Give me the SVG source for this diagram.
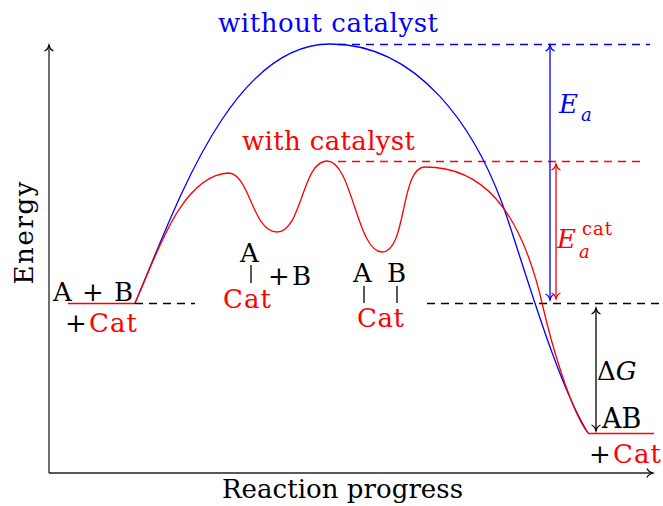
<svg xmlns="http://www.w3.org/2000/svg" width="663" height="506" viewBox="0 0 663 506">
<style>
text{font-family:"DejaVu Serif","Liberation Serif",serif;font-size:26px}
.k{fill:#000}.r{fill:#ff0000}.b{fill:#0000ff}
.it{font-style:italic}
.sm{font-size:18px}
.ln{fill:none;stroke-width:1.3}
.dash{fill:none;stroke-width:1.3;stroke-dasharray:8 6}
</style>
<defs>
<marker id="tk" markerUnits="userSpaceOnUse" markerWidth="12" markerHeight="12" refX="0" refY="0" orient="auto-start-reverse" style="overflow:visible"><path d="M-6,-4.5 C-5,-1.8 -1.5,-0.4 0,0 C-1.5,0.4 -5,1.8 -6,4.5" fill="none" stroke="#000" stroke-width="1.2"/></marker>
<marker id="tb" markerUnits="userSpaceOnUse" markerWidth="12" markerHeight="12" refX="0" refY="0" orient="auto-start-reverse" style="overflow:visible"><path d="M-6,-4.5 C-5,-1.8 -1.5,-0.4 0,0 C-1.5,0.4 -5,1.8 -6,4.5" fill="none" stroke="#0000ff" stroke-width="1.2"/></marker>
<marker id="tr" markerUnits="userSpaceOnUse" markerWidth="12" markerHeight="12" refX="0" refY="0" orient="auto-start-reverse" style="overflow:visible"><path d="M-6,-4.5 C-5,-1.8 -1.5,-0.4 0,0 C-1.5,0.4 -5,1.8 -6,4.5" fill="none" stroke="#ff0000" stroke-width="1.2"/></marker>
</defs>
<rect width="663" height="506" fill="#fff"/>
<g id="connectors">
<path d="M49,473 V45" class="ln" stroke="#222" stroke-width="1.2" marker-end="url(#tk)"/>
<path d="M49,473 H653" class="ln" stroke="#222" stroke-width="1.2" marker-end="url(#tk)"/>
<path d="M135,303.5 H195 M427,303.5 H663" class="dash" stroke="#000"/>
<path d="M338,44.5 H650" class="dash" stroke="#0000ff"/>
<path d="M338,161.5 H645" class="dash" stroke="#ff0000"/>
<path d="M68,303.5 H135 M588,433.5 H654" class="ln" stroke="#ff0000"/>
<path d="M135,303 C175,210 230,44 330,44 C420,44 475,130 502,203 C520,252 555,380 588,433" class="ln" stroke="#0000ff"/>
<path d="M135,303 C155,260 180,176 228,173 C250,173 252,232 277,232 C302,232 302,161 327,161 C352,161 357,252 382,252 C407,252 400,167 425,167 C480,167 520,205 543,307 C550,338 570,410 588,433" class="ln" stroke="#ff0000"/>
<path d="M550,45 V300" class="ln" stroke="#0000ff" stroke-width="1.2" marker-start="url(#tb)" marker-end="url(#tb)"/>
<path d="M556,164 V299" class="ln" stroke="#ff0000" stroke-width="1.2" marker-start="url(#tr)" marker-end="url(#tr)"/>
<path d="M596,308 V431" class="ln" stroke="#000" stroke-width="1.2" marker-start="url(#tk)" marker-end="url(#tk)"/>
<path d="M251,265 V283 M364,286 V303 M397,286 V303" class="ln" stroke="#000" stroke-width="1"/>
</g>
<g id="axis-labels">
<text class="k" transform="translate(33,233) rotate(-90)" text-anchor="middle" textLength="103">Energy</text>
<text class="k" x="222" y="498" textLength="241">Reaction progress</text>
</g>
<g id="curve-labels">
<text class="b" x="218" y="32" textLength="220">without catalyst</text>
<text class="r" x="242" y="150" textLength="173">with catalyst</text>
</g>
<g id="reactants">
<text class="k" x="53" y="301" textLength="80">A + B</text>
<text class="k" x="65" y="332">+</text>
<text class="r" x="89" y="332" textLength="48">Cat</text>
</g>
<g id="intermediate1">
<text class="k" x="240" y="262">A</text>
<text class="k" x="268" y="285" textLength="43">+B</text>
<text class="r" x="223" y="308" textLength="48">Cat</text>
</g>
<g id="intermediate2">
<text class="k" x="353" y="282">A</text>
<text class="k" x="387" y="282">B</text>
<text class="r" x="357" y="327" textLength="47">Cat</text>
</g>
<g id="products">
<text class="k" x="602" y="428" style="font-size:27px">AB</text>
<text class="k" x="589" y="463">+</text>
<text class="r" x="613" y="463" textLength="48">Cat</text>
</g>
<g id="Ea">
<text class="b it" x="559" y="113">E</text>
<text class="b it sm" x="581" y="121">a</text>
</g>
<g id="Eacat">
<text class="r it" x="557" y="248">E</text>
<text class="r it sm" x="579" y="258">a</text>
<text class="r sm" x="582" y="235" textLength="30">cat</text>
</g>
<g id="deltaG">
<text class="k" x="597" y="380">Δ<tspan class="it">G</tspan></text>
</g>
</svg>
